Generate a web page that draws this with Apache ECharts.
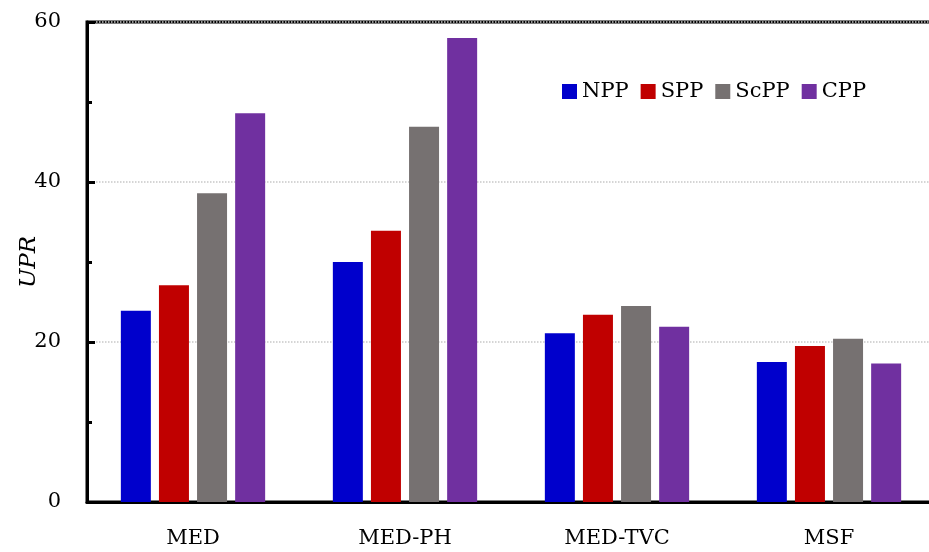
<!DOCTYPE html>
<html>
<head>
<meta charset="utf-8">
<script src="https://cdn.jsdelivr.net/npm/echarts@6/dist/echarts.min.js"></script>
<style>
  html, body { margin: 0; padding: 0; background: #fff; }
  #chart { width: 929px; height: 552px; }
</style>
</head>
<body>
<div id="chart"></div>
<script>
// Categories and series values
const categories = ['MED', 'MED-PH', 'MED-TVC', 'MSF'];
const seriesNames = ['NPP', 'SPP', 'ScPP', 'CPP'];
const npp  = [23.9, 30.0, 21.1, 17.5];
const spp  = [27.1, 33.9, 23.4, 19.5];
const scpp = [38.6, 46.9, 24.5, 20.4];
const cpp  = [48.6, 58.0, 21.9, 17.3];
const yTicks = [0, 20, 40, 60];

const colors = ['#0000CC', '#C00000', '#767171', '#7030A0'];
const values = [npp, spp, scpp, cpp];
const font = 'DejaVu Serif';

const chart = echarts.init(document.getElementById('chart'));
chart.setOption({
  animation: false,
  backgroundColor: '#fff',
  textStyle: { fontFamily: font },
  grid: {
    left: 87, top: 22, width: 848, height: 480,
    outerBoundsMode: 'none',
    containLabel: false,
    show: true, borderColor: '#000', borderWidth: 3, backgroundColor: 'transparent'
  },
  legend: {
    left: 557, top: 76,
    itemWidth: 15, itemHeight: 15, itemGap: 12,
    icon: 'rect',
    textStyle: { fontFamily: font, fontSize: 21, color: '#000' },
    data: seriesNames
  },
  xAxis: {
    type: 'category',
    data: categories,
    axisLine: { lineStyle: { color: '#000', width: 3 } },
    axisTick: { show: false },
    axisLabel: { color: '#000', fontSize: 21, fontFamily: font, margin: 26 }
  },
  yAxis: {
    type: 'value',
    min: yTicks[0], max: yTicks[yTicks.length - 1], interval: 20,
    name: 'UPR',
    nameLocation: 'middle',
    nameGap: 46,
    nameMoveOverlap: false,
    nameRotate: 90,
    nameTextStyle: { fontFamily: font, fontStyle: 'italic', fontSize: 23, color: '#000' },
    axisLine: { show: true, lineStyle: { color: '#000', width: 3 } },
    axisTick: { show: true, inside: true, length: 8, lineStyle: { color: '#000', width: 3 } },
    minorTick: { show: true, splitNumber: 2, length: 5, lineStyle: { color: '#000', width: 3 } },
    axisLabel: { color: '#000', fontSize: 21, fontFamily: font, margin: 26 },
    splitLine: { show: true, lineStyle: { color: '#c8c8c8', type: 'dotted', width: 1.5 } }
  },
  series: seriesNames.map((name, i) => ({
    name: name,
    type: 'bar',
    data: values[i],
    barWidth: 30,
    barGap: '27%',
    itemStyle: { color: colors[i] }
  }))
});
</script>
</body>
</html>
